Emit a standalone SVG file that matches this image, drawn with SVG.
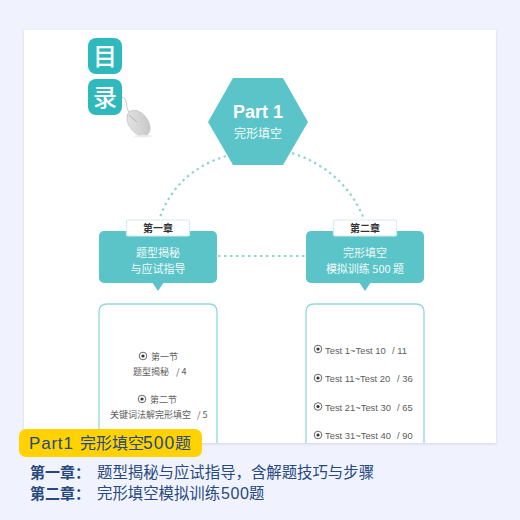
<svg xmlns="http://www.w3.org/2000/svg" width="520" height="520" viewBox="0 0 520 520">
<defs>
<filter id="sh" x="-5%" y="-5%" width="110%" height="110%"><feDropShadow dx="0" dy="1" stdDeviation="1.5" flood-color="#8890a8" flood-opacity="0.3"/></filter>
<linearGradient id="mouse" x1="0" y1="0" x2="1" y2="1"><stop offset="0" stop-color="#e6e6e6"/><stop offset="1" stop-color="#c4c4c4"/></linearGradient>
</defs>
<style>
text{font-family:"Noto Sans CJK SC","Liberation Sans",sans-serif}
.lat{font-family:"Liberation Sans","Noto Sans CJK SC",sans-serif}
.teal{fill:#5ac4c8}
.w{fill:#f2fbfb;text-anchor:middle;font-size:11px}
.chip{fill:#fff;stroke:#d3eeee;stroke-width:1.2}
.chipt{fill:#333;text-anchor:middle;font-size:10px;font-weight:700}
.panel{fill:#fff;stroke:#93d8da;stroke-width:1.3}
.g{fill:#5c5c5c;font-size:9px}
.t{fill:#5c5c5c;font-size:9.400px}
.dash{fill:none;stroke:#8fd3d5;stroke-width:2.2;stroke-dasharray:2.4 3.6}
.blue{fill:#27497f;font-size:15.400px}
.blueb{fill:#27497f;font-size:15px;font-weight:700}
.ring{fill:#fff;stroke:#444;stroke-width:.8}
.dot{fill:#333}
.badge{fill:#2fb9bd}
.bt{fill:#fff;font-size:24px;font-weight:500;text-anchor:middle}
</style>
<rect width="520" height="520" fill="#f0f3fd"/>
<rect x="24" y="30" width="472" height="413" fill="#fff" filter="url(#sh)"/>

<g id="connectors">
<path class="dash" d="M226 156 Q175 172 159 220"/>
<path class="dash" d="M292 153 Q344 170 364 219"/>
<path class="dash" d="M218 256 H306"/>
</g>

<g id="title-mu"><rect class="badge" x="88" y="38" width="34" height="36" rx="8"/><text class="bt" x="105" y="65">目</text></g>
<g id="title-lu"><rect class="badge" x="88" y="79" width="34" height="36" rx="8"/><text class="bt" x="105" y="106">录</text></g>
<g id="mouse-icon">
<path d="M122 97 C128 98 125 107 129 112" fill="none" stroke="#c8c8c8" stroke-width="1"/>
<ellipse cx="138.500" cy="123" rx="9.500" ry="14.500" transform="rotate(-38 138.500 123)" fill="url(#mouse)" stroke="#bbb" stroke-width=".6"/>
<path d="M129 115 L137 122" stroke="#aaa" stroke-width=".8"/>
<ellipse cx="143" cy="136" rx="9" ry="1.200" fill="#e8e8e8"/>
</g>

<g id="hexagon">
<path class="teal" d="M233 78 H283 L308 122 L283 165 H233 L208 122 Z"/>
<text x="258" y="118" text-anchor="middle" fill="#fff" font-size="18" font-weight="700" class="lat">Part 1</text>
<text x="258" y="138" text-anchor="middle" fill="#f2fbfb" font-size="12">完形填空</text>
</g>

<g id="chapter1">
<rect class="teal" x="99" y="231" width="118" height="52" rx="5"/>
<path class="teal" d="M152 282 H164 L158 291 Z"/>
<rect class="chip" x="126.500" y="220" width="63" height="16" rx="1.500"/>
<text class="chipt" x="158" y="232">第一章</text>
<text class="w" x="158" y="257">题型揭秘</text>
<text class="w" x="158" y="273">与应试指导</text>
</g>

<g id="chapter2">
<rect class="teal" x="306" y="231" width="118" height="52" rx="5"/>
<path class="teal" d="M359 282 H371 L365 291 Z"/>
<rect class="chip" x="333.500" y="220" width="63" height="16" rx="1.500"/>
<text class="chipt" x="365" y="232">第二章</text>
<text class="w" x="365" y="257">完形填空</text>
<text class="w" x="365" y="273">模拟训练 500 题</text>
</g>

<g id="panel1">
<path class="panel" d="M99 443 V312 Q99 304 107 304 H209 Q217 304 217 312 V443"/>
<circle class="ring" cx="143" cy="356" r="3.800"/><circle class="dot" cx="143" cy="356" r="1.600"/>
<text class="g" x="151" y="360">第一节</text>
<text class="g" x="133" y="375">题型揭秘<tspan x="176">/ 4</tspan></text>
<circle class="ring" cx="142" cy="399" r="3.800"/><circle class="dot" cx="142" cy="399" r="1.600"/>
<text class="g" x="150" y="403">第二节</text>
<text class="g" x="110" y="418">关键词法解完形填空<tspan x="197">/ 5</tspan></text>
</g>

<g id="panel2">
<path class="panel" d="M306 443 V312 Q306 304 314 304 H416 Q424 304 424 312 V443"/>
<circle class="ring" cx="318" cy="349" r="3.800"/><circle class="dot" cx="318" cy="349" r="1.600"/>
<text class="t lat" x="325" y="353.500">Test 1~Test 10<tspan x="392">/ 11</tspan></text>
<circle class="ring" cx="318" cy="378" r="3.800"/><circle class="dot" cx="318" cy="378" r="1.600"/>
<text class="t lat" x="325" y="382">Test 11~Test 20<tspan x="397">/ 36</tspan></text>
<circle class="ring" cx="318" cy="406.500" r="3.800"/><circle class="dot" cx="318" cy="406.500" r="1.600"/>
<text class="t lat" x="325" y="410.500">Test 21~Test 30<tspan x="397">/ 65</tspan></text>
<circle class="ring" cx="318" cy="435" r="3.800"/><circle class="dot" cx="318" cy="435" r="1.600"/>
<text class="t lat" x="325" y="439">Test 31~Test 40<tspan x="397">/ 90</tspan></text>
</g>

<g id="banner">
<rect x="19" y="429" width="183" height="28" rx="7" fill="#ffd200"/>
<text x="29" y="449" fill="#27497f" font-size="16"><tspan class="lat" font-size="17" letter-spacing=".8">Part1</tspan><tspan x="80">完形填空</tspan><tspan class="lat" x="143" font-size="17.500" letter-spacing="1">500</tspan><tspan x="175">题</tspan></text>
</g>
<g id="summary">
<text class="blueb" x="30" y="478">第一章：</text>
<text class="blue" x="97" y="478">题型揭秘与应试指导，含解题技巧与步骤</text>
<text class="blueb" x="30" y="499">第二章：</text>
<text class="blue" x="97" y="499">完形填空模拟训练<tspan class="lat" x="221" font-size="16" letter-spacing=".6">500</tspan><tspan x="249">题</tspan></text>
</g>
</svg>
